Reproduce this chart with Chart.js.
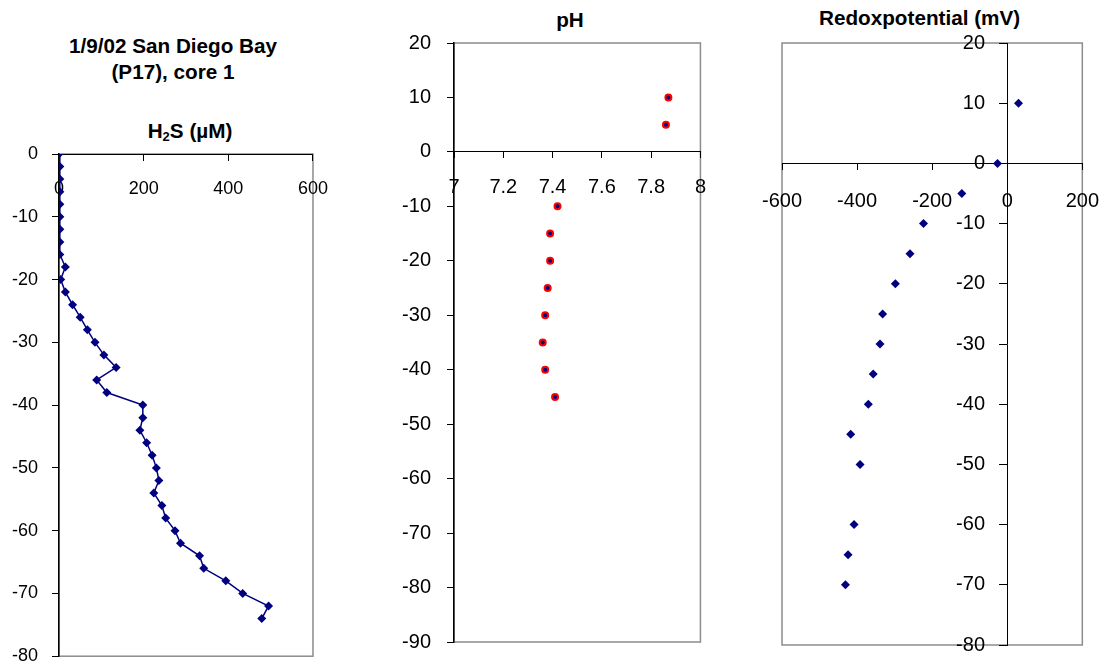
<!DOCTYPE html>
<html>
<head>
<meta charset="utf-8">
<script src="https://cdn.jsdelivr.net/npm/chart.js@4.4.0/dist/chart.umd.min.js"></script>
<style>
  body { margin: 0; background: #fff; width: 1099px; height: 667px; position: relative; overflow: hidden; font-family: Arial, "Liberation Sans", sans-serif; }
  canvas { position: absolute; top: 0; }
  .title { position: absolute; font-weight: bold; font-size: 20.7px; line-height: 26px; text-align: center; color: #000; white-space: nowrap; }
  .title sub { font-size: 13px; vertical-align: -3px; }
</style>
</head>
<body>
<div class="title" style="left:0;width:346px;top:33px">1/9/02 San Diego Bay<br>(P17), core 1</div>
<div class="title" style="left:90px;width:200px;top:118px">H<sub>2</sub>S (µM)</div>
<div class="title" style="left:470px;width:200px;top:7px">pH</div>
<div class="title" style="left:819px;width:200px;top:5px">Redoxpotential (mV)</div>

<canvas id="h2sChart" width="340" height="667" style="left:0"></canvas>
<canvas id="phChart" width="380" height="667" style="left:340px"></canvas>
<canvas id="redoxChart" width="379" height="667" style="left:720px"></canvas>

<script>
// H2S profile, core 1 (depth in cm, value in µM)
const h2sDepth = [0, -2, -4, -6, -8, -10, -12, -14, -16, -18, -20, -22, -24, -26, -28, -30, -32, -34, -36, -38,
  -40, -42, -44, -46, -48, -50, -52, -54, -56, -58, -60, -62, -64, -66, -68, -70, -72, -74];
const h2sValues = [0, 2, 2, 2, 2, 2, 2, 2, 2, 15, 4, 15, 32, 50, 67, 85, 106, 135, 89, 113,
  198, 198, 191, 207, 220, 230, 236, 224, 243, 252, 274, 287, 332, 342, 394, 434, 495, 479];

// pH
const phDepth = [10, 5, -10, -15, -20, -25, -30, -35, -40, -45];
const phValues = [7.87, 7.86, 7.42, 7.39, 7.39, 7.38, 7.37, 7.36, 7.37, 7.41];

// redox potential (mV)
const redoxDepth = [10, 0, -5, -10, -15, -20, -25, -30, -35, -40, -45, -50, -60, -65, -70];
const redoxValues = [30, -26, -121, -223, -259, -298, -332, -339, -357, -370, -417, -392, -408, -424, -431];

const navy = "#000080";
const fontFam = 'Arial, "Liberation Sans", sans-serif';

function toPoints(xs, ys) {
  return xs.map((x, i) => ({ x: x, y: ys[i] }));
}

// grey plot-area frame, like the spreadsheet charts
const frame = {
  id: "frame",
  beforeDraw(chart) {
    const a = chart.chartArea;
    const ctx = chart.ctx;
    ctx.save();
    ctx.strokeStyle = "#8c8c8c";
    ctx.lineWidth = 1.5;
    ctx.strokeRect(a.left, a.top, a.right - a.left, a.bottom - a.top);
    ctx.restore();
  },
};

function axis(min, max, step, pos, tickLen, size, pad, fmt, bw) {
  return {
    type: "linear",
    min: min,
    max: max,
    position: pos,
    border: { display: true, color: "#000", width: bw },
    grid: { display: true, drawOnChartArea: false, drawTicks: true, tickLength: tickLen, tickColor: "#000", tickWidth: 1 },
    ticks: {
      stepSize: step,
      autoSkip: false,
      maxRotation: 0,
      padding: pad,
      color: "#000",
      font: { size: size, family: fontFam },
      callback: fmt || ((v) => String(v)),
    },
  };
}

const baseOpts = {
  responsive: false,
  animation: false,
  events: [],
  plugins: { legend: { display: false }, tooltip: { enabled: false }, title: { display: false } },
};

// build the chart, then resize the canvas / padding so the plot area lands on box
function makeChart(id, makeCfg, pad, box) {
  const canvas = document.getElementById(id);
  let chart = new Chart(canvas, makeCfg(pad));
  for (let i = 0; i < 3; i++) {
    const a = chart.chartArea;
    pad.left += box.left - a.left;
    pad.top += box.top - a.top;
    const w = Math.round(box.right + (chart.width - a.right));
    const h = Math.round(box.bottom + (chart.height - a.bottom));
    chart.destroy();
    canvas.width = w;
    canvas.height = h;
    chart = new Chart(canvas, makeCfg(pad));
  }
  return chart;
}

makeChart("h2sChart", (pad) => ({
  type: "scatter",
  data: {
    datasets: [
      {
        data: toPoints(h2sValues, h2sDepth),
        showLine: true,
        borderColor: navy,
        borderWidth: 1.5,
        pointStyle: "rectRot",
        pointRadius: 4.5,
        pointBackgroundColor: navy,
        pointBorderColor: navy,
        pointBorderWidth: 0,
      },
    ],
  },
  options: {
    ...baseOpts,
    layout: { padding: { ...pad } },
    scales: {
      x: axis(0, 600, 200, { y: 0 }, 6, 18, 18, null, 1),
      y: axis(-80, 0, 10, "left", 7, 18, 14, null, 1.5),
    },
  },
  plugins: [frame],
}), { left: 10, top: 154, right: 0, bottom: 0 }, { left: 59, top: 154, right: 313, bottom: 656 });

makeChart("phChart", (pad) => ({
  type: "scatter",
  data: {
    datasets: [
      {
        data: toPoints(phValues, phDepth),
        pointStyle: "circle",
        pointRadius: 3,
        pointBorderWidth: 2,
        pointBorderColor: "#ff0000",
        pointBackgroundColor: navy,
      },
    ],
  },
  options: {
    ...baseOpts,
    layout: { padding: { ...pad } },
    scales: {
      x: axis(7, 8, 0.2, { y: 0 }, 6, 20, 18, (v) => String(Math.round(v * 10) / 10), 1),
      y: axis(-90, 20, 10, "left", 7, 20, 16, null, 1.5),
    },
  },
  plugins: [frame],
}), { left: 60, top: 43, right: 0, bottom: 0 }, { left: 114, top: 43, right: 360, bottom: 642 });

// y axis sits at x = 0 here; the trailing spaces keep its labels clear of the axis line
makeChart("redoxChart", (pad) => ({
  type: "scatter",
  data: {
    datasets: [
      {
        data: toPoints(redoxValues, redoxDepth),
        pointStyle: "rectRot",
        pointRadius: 4.5,
        pointBackgroundColor: navy,
        pointBorderColor: navy,
        pointBorderWidth: 0,
      },
    ],
  },
  options: {
    ...baseOpts,
    layout: { padding: { ...pad } },
    scales: {
      x: axis(-600, 200, 200, { y: 0 }, 6, 20, 20, null, 1),
      y: axis(-80, 20, 10, { x: 0 }, 8, 20, 0, (v) => v + "    ", 1),
    },
  },
  plugins: [frame],
}), { left: 62, top: 43, right: 0, bottom: 0 }, { left: 62, top: 43, right: 362, bottom: 645 });
</script>
</body>
</html>
